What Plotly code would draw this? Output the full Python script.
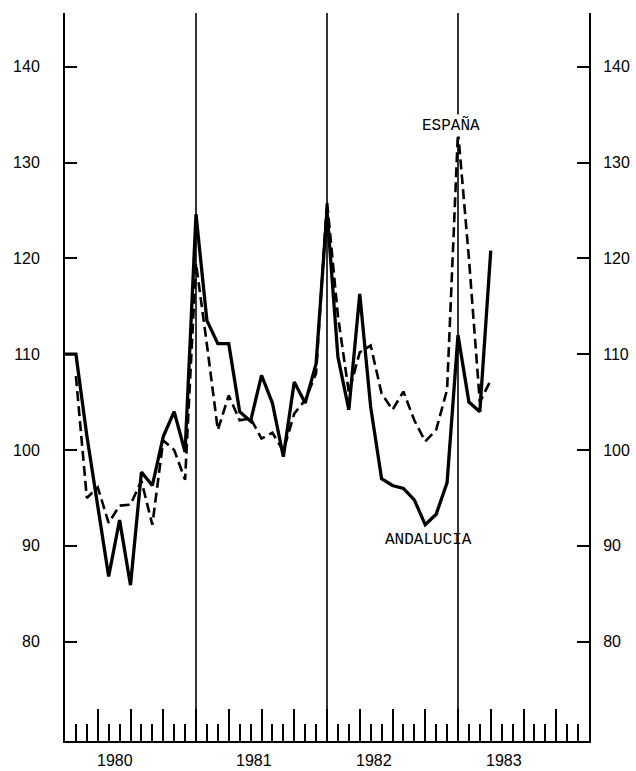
import plotly.graph_objects as go
import pandas as pd

# Monthly series, Dec 1979 .. Mar 1983 (points sit at the end of each month)
months = [p.strftime("%Y-%m") for p in pd.period_range("1979-12", "1983-03", freq="M")]

andalucia = [
    110.0,                                                   # 1979-12
    110.0, 101.5, 94.0, 86.8, 92.7, 85.9, 97.7, 96.3, 101.4, 104.0, 99.8, 124.6,   # 1980
    113.5, 111.1, 111.1, 104.0, 103.0, 107.8, 104.9, 99.3, 107.1, 104.9, 109.0, 125.0,  # 1981
    109.7, 104.2, 116.3, 104.5, 97.0, 96.3, 96.0, 94.8, 92.2, 93.3, 96.6, 112.0,   # 1982
    105.0, 104.0, 120.8,                                     # 1983
]

espana = [
    None,
    107.7, 95.0, 96.1, 92.4, 94.2, 94.3, 96.8, 92.2, 101.0, 100.0, 96.9, 119.5,
    111.0, 102.1, 105.7, 103.1, 103.3, 101.2, 101.8, 99.9, 103.8, 105.2, 108.0, 126.0,
    114.0, 106.0, 110.2, 110.9, 105.9, 104.2, 106.1, 103.1, 100.9, 102.1, 106.3, 133.3,
    120.0, 105.0, 107.3,
]

year_labels = ["1980", "1981", "1982", "1983"]
year_label_pos = [4.6, 17.3, 28.3, 40.2]
y_ticks = [80, 90, 100, 110, 120, 130, 140]
year_breaks = [12, 24, 36]

x_pos = list(range(len(months)))

fig = go.Figure()
fig.add_trace(go.Scatter(
    x=x_pos, y=andalucia, mode="lines", name="ANDALUCIA",
    customdata=months, hovertemplate="%{customdata}: %{y}<extra>ANDALUCIA</extra>",
    line=dict(color="black", width=3.3),
))
fig.add_trace(go.Scatter(
    x=x_pos, y=espana, mode="lines", name="ESPAÑA", yaxis="y2",
    customdata=months, hovertemplate="%{customdata}: %{y}<extra>ESPAÑA</extra>",
    line=dict(color="black", width=2.6, dash="10px,5px"),
    connectgaps=False,
))

for xb in year_breaks:
    fig.add_vline(x=xb, line=dict(color="black", width=1.6), layer="below")

yr = [69.64, 145.6]
axis_font = dict(family="Liberation Sans, Arial, sans-serif", size=16, color="black")

fig.update_layout(
    width=636, height=771,
    margin=dict(l=65, r=47, t=13, b=30, autoexpand=False),
    paper_bgcolor="white", plot_bgcolor="white",
    showlegend=False,
    xaxis=dict(
        range=[0, 48], showline=True, linecolor="black", linewidth=2,
        showgrid=False, zeroline=False,
        ticks="inside", tick0=0, dtick=3, ticklen=32, tickwidth=2, tickcolor="black",
        showticklabels=False,
        minor=dict(ticks="inside", tick0=0, dtick=1, ticklen=17, tickwidth=2,
                   tickcolor="black", showgrid=False),
    ),
    yaxis=dict(
        range=yr, showline=True, linecolor="black", linewidth=2,
        showgrid=False, zeroline=False,
        tickmode="array", tickvals=y_ticks, ticktext=[str(v) for v in y_ticks],
        ticks="inside", ticklen=12, tickwidth=2, tickcolor="black",
        tickfont=axis_font, ticklabelstandoff=20,
    ),
    yaxis2=dict(
        range=yr, overlaying="y", side="right", anchor="x",
        showline=True, linecolor="black", linewidth=2,
        showgrid=False, zeroline=False,
        tickmode="array", tickvals=y_ticks, ticktext=[str(v) for v in y_ticks],
        ticks="inside", ticklen=12, tickwidth=2, tickcolor="black",
        tickfont=axis_font, ticklabelstandoff=9,
    ),
)

for lbl, pos in zip(year_labels, year_label_pos):
    fig.add_annotation(x=pos, y=0, xref="x", yref="paper", text=lbl, showarrow=False,
                       yshift=-19, yanchor="middle", xanchor="center", borderpad=0,
                       font=dict(family="Liberation Sans, Arial, sans-serif", size=16, color="black"))

label_font = dict(family="Liberation Mono, Courier New, monospace", size=16, color="black")
fig.add_annotation(x=35.4, y=133.9, xref="x", yref="y", text="ESPAÑA", showarrow=False,
                   xanchor="center", yanchor="middle", font=label_font, bgcolor="white")
fig.add_annotation(x=33.3, y=90.6, xref="x", yref="y", text="ANDALUCIA", showarrow=False,
                   xanchor="center", yanchor="middle", font=label_font)

fig.write_html("out.html", config={"displayModeBar": False},
               post_script="document.body.style.margin='0';document.body.style.padding='0';")

# remove the default page margin so the 636x771 figure fills the window exactly
with open("out.html", "r", encoding="utf-8") as fh:
    html = fh.read()
html = html.replace("<head>", "<head><style>html,body{margin:0;padding:0;overflow:hidden;}</style>", 1)
with open("out.html", "w", encoding="utf-8") as fh:
    fh.write(html)
